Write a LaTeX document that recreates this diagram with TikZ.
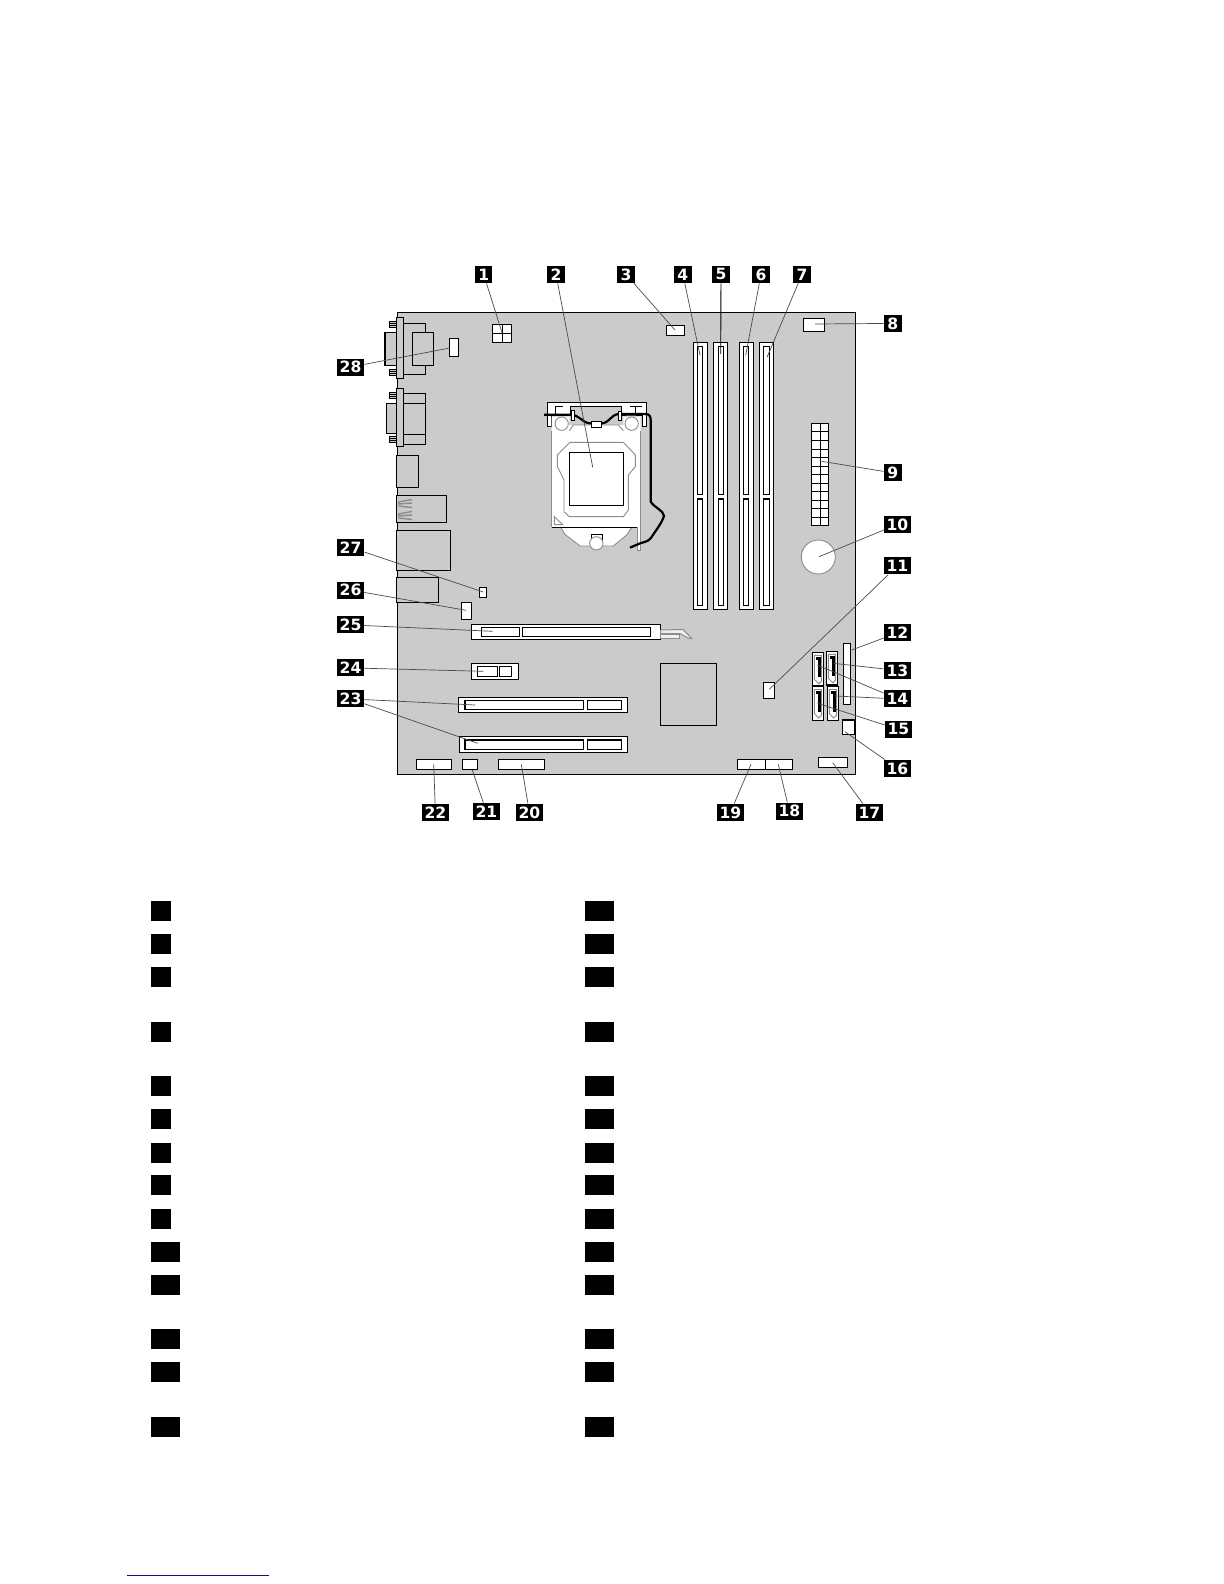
\documentclass[tikz,border=0pt]{standalone}
\usepackage{fontspec}
\setmainfont{DejaVu Sans}
\definecolor{board}{HTML}{CBCBCB}
\definecolor{leader}{HTML}{4A4A4A}
\definecolor{soft}{HTML}{8C8C8C}
\definecolor{rule}{HTML}{10108A}
\tikzset{
  part/.style={draw=black,line width=0.6pt,fill=white},
  shell/.style={draw=black,line width=0.6pt,fill=board},
  softline/.style={draw=soft,line width=0.45pt},
  lead/.style={draw=leader,line width=0.35pt},
  tag/.style={fill=black,text=white,inner sep=0pt,minimum height=8.5pt,font=\bfseries\fontsize{7.8}{8}\selectfont},
  legendmark/.style={fill=black,inner sep=0pt}
}
\newcommand{\rbox}[5]{\path[#1] (#2,#3) rectangle (#4,#5);}
\newcommand{\lab}[4]{\node[tag,minimum width=#3*0.5pt] (l#4) at (#1,#2) {#4};}
\newcommand{\blk}[4]{\node[legendmark,minimum width=#3*0.5pt,minimum height=10pt] (#4) at (#1,#2) {};}
\newcommand{\leadto}[4]{\coordinate (#1) at (#2,#3); \draw[lead] (#4) -- (#1);}
\newcommand{\screwset}[2]{%
  \rbox{shell,line width=0.35pt}{#1}{#2}{396.3}{#2+6.5}
  \draw[line width=0.3pt] (#1,#2+2.2) -- (396.3,#2+2.2) (#1,#2+4.4) -- (396.3,#2+4.4);}
\newcommand{\satabox}[2]{%
  \begin{scope}[shift={(#1,#2)}]
  \rbox{part}{0}{0}{11.4}{33.6}
  \draw[softline,fill=white] (2,3) -- (9,3) -- (9,29) -- (6.5,31.5) -- (2,27) -- cycle;
  \draw[line width=1.3pt] (3.2,6) -- (7,6) -- (7,25);
  \end{scope}}
\begin{document}
\begin{tikzpicture}[x=0.5pt,y=-0.5pt]
\path[fill=white,use as bounding box] (0,0) rectangle (1224,1584);
% board
\rbox{shell,line width=0.65pt}{397.3}{312.3}{855.7}{774.3}
% rear I/O
\screwset{389.3}{321}\screwset{389.3}{369}
\rbox{shell}{403.7}{323.3}{425.7}{374.3}
\rbox{shell}{412.3}{332.3}{433.3}{365.3}
\rbox{shell}{385}{332.3}{396.3}{365.3}
\rbox{shell}{396.3}{317.3}{403.7}{378.3}
\screwset{389.3}{392}\screwset{389.3}{436}
\rbox{shell}{403.7}{393.3}{425.7}{444.3}
\draw[line width=0.6pt] (403.7,403.3) -- (425.7,403.3) (403.7,434.3) -- (425.7,434.3);
\rbox{shell}{386.3}{403.3}{396.3}{433.3}
\rbox{shell}{396.3}{388.3}{403.7}{446.3}
\rbox{shell}{396.3}{455.3}{418.7}{487.3}
\rbox{shell}{396.3}{495.3}{446.7}{522.3}
\draw[draw=soft,line width=0.7pt] (412,499.5) -- (398.5,502) -- (398.5,504) -- (412,503) (398.5,506) -- (412,507.5)
  (412,511.5) -- (398.5,514) -- (398.5,516) -- (412,515) (398.5,518) -- (412,519.5);
\rbox{shell}{396.3}{530.3}{450.7}{570.3}
\rbox{shell}{396.3}{577.3}{438.7}{602.7}
% small headers
\rbox{part}{492.3}{324.3}{511.7}{342.3}
\draw[line width=0.4pt] (502,324.3) -- (502,342.3) (492.3,333.3) -- (511.7,333.3);
\rbox{part}{666.3}{325.3}{684.7}{335.3}
\rbox{part}{803.3}{318.3}{824.7}{331.3}
\rbox{part}{449.3}{338.3}{458.7}{356.3}
\rbox{part}{479.3}{587.3}{486.7}{597.3}
\rbox{part}{461.3}{602.3}{471.7}{619.3}
% CPU socket
\begin{scope}[shift={(530,400)},x=0.16667pt,y=-0.16667pt]
  \path[fill=white,draw=black,line width=0.5pt] (52,78) -- (52,8) -- (350,8) -- (350,78) -- (338,78) -- (338,45) -- (300,45) -- (275,45) -- (275,18) -- (120,18) -- (120,45) -- (64,45) -- (64,78) -- cycle;
  \path[fill=white] (65,50) -- (118,50) -- (118,75) -- (280,75) -- (280,50) -- (332,50) -- (332,382) -- (65,382) -- cycle;
  \path[fill=board] (120,50) -- (275,50) -- (275,74) -- (120,74) -- cycle;
  \draw[softline] (65,92) -- (65,382) (332,92) -- (332,382);
  \draw[softline] (118,92) -- (130,75) -- (265,75) -- (280,92);
  \draw[softline,fill=white] (92,382) -- (105,403) -- (150,438) -- (250,438) -- (290,405) -- (305,382);
  \draw[line width=0.6pt] (65,382) -- (332,382);
  \draw[softline,fill=white] (322,382) -- (322,450) -- (332,450) -- (332,382);
  \draw[softline,fill=white] (95,71) circle (20) (305,71) circle (20);
  \draw[line width=0.45pt] (75,20) -- (98,20) (75,20) -- (75,45) (300,20) -- (335,20) (315,20) -- (315,45);
  \draw[softline] (120,127) -- (280,127) -- (316,165) -- (316,200) -- (295,225) -- (295,330) -- (280,350) -- (118,350) -- (102,335) -- (102,240) -- (82,200) -- (82,165) -- cycle;
  \draw[softline] (73,350) -- (98,374) -- (73,374) -- cycle;
  \rbox{part,line width=0.45pt}{183}{403}{218}{430}
  \draw[softline,fill=white] (199,430) circle (20);
  \draw[line width=1.1pt,line join=round] (42,44) -- (120,44) .. controls (150,44) and (155,68) .. (180,70) -- (215,70) .. controls (240,68) and (240,46) .. (265,42) -- (345,42) .. controls (358,42) and (362,48) .. (362,60) -- (362,305) .. controls (375,325) and (400,330) .. (402,348) .. controls (395,370) and (375,395) .. (362,415) .. controls (350,428) and (340,425) .. (330,430) -- (300,443);
  \rbox{part,line width=0.35pt}{123}{30}{132}{60}
  \rbox{part,line width=0.35pt}{265}{33}{274}{62}
  \rbox{part,line width=0.35pt}{184}{64}{214}{82}
\end{scope}
\rbox{part,line width=0.65pt}{569.3}{452.3}{623.7}{505.3}
% memory slots
\foreach \xa/\xb/\ia/\ib in {693.3/707.7/697.3/702.7,713.3/727.7/718.3/723.7,739.3/753.7/743.3/748.7,759.3/773.7/763.3/769.7}{
  \rbox{part}{\xa}{342.3}{\xb}{609.3}
  \rbox{part}{\ia}{346.3}{\ib}{494.7}
  \rbox{part}{\ia}{499}{\ib}{605.3}
}
% power connector
\rbox{part}{811.3}{423.3}{828.7}{525.7}
\draw[line width=0.4pt] (820.3,423.3) -- (820.3,525.7);
\foreach \k in {1,...,11}{\draw[line width=0.4pt] (811.3,423.3+\k*8.533) -- (828.7,423.3+\k*8.533);}
% battery
\draw[softline,fill=white] (818.3,557) circle (17);
% PCIe x16
\rbox{part}{471.3}{624.3}{660.7}{639.3}
\rbox{part}{481.3}{627.3}{519.3}{636.7}
\rbox{part}{522.3}{627.3}{650.7}{636.7}
\draw[draw=soft,line width=0.5pt,fill=white!70!board] (660.7,630) -- (683,629.5) -- (691.7,638.5) -- (688,638) -- (680,633.5) -- (660.7,633.5) -- cycle;
\draw[draw=soft,line width=0.5pt,fill=white!70!board] (660.7,634) -- (679.5,634) -- (679.5,638.5) -- (660.7,638.5) -- cycle;
% PCIe x1
\rbox{part}{471.3}{663.3}{518.7}{679.3}
\rbox{part}{477.3}{666.3}{497.7}{676.7}
\rbox{part}{499.3}{666.3}{511.7}{676.7}
% PCI
\rbox{part}{458.3}{697.3}{627.7}{712.3}
\rbox{part}{465}{700.3}{583.7}{709.7}
\rbox{part}{587.3}{700.3}{621.7}{709.7}
\rbox{part}{459.3}{736.3}{627.7}{752.3}
\rbox{part}{465}{740}{583.7}{749.7}
\rbox{part}{587.3}{740}{621.7}{749.7}
% chipset and others
\rbox{shell}{660.3}{663.3}{716.7}{725.3}
\rbox{part}{763.3}{682.3}{774.7}{698.7}
\rbox{part}{843.3}{643.3}{850.7}{704.3}
\rbox{part}{842.3}{720}{855}{734.3}
\satabox{812.3}{652.3}\satabox{826.3}{651.3}\satabox{812.3}{686.5}\satabox{827.3}{686.5}
% bottom headers
\rbox{part}{416.3}{759.3}{451.7}{769.3}
\rbox{part}{462.3}{759.3}{477.7}{769.3}
\rbox{part}{498.3}{759.3}{544.7}{769.3}
\rbox{part}{737.3}{759.3}{765.7}{769.3}
\rbox{part}{765.7}{759.3}{792.7}{769.3}
\rbox{part}{818.3}{757.3}{847.7}{767.7}
% callout tags
\lab{483.7}{274.4}{17}{1}\lab{556}{274.4}{17.4}{2}\lab{626}{274.4}{17.4}{3}
\lab{682.9}{274.4}{17.7}{4}\lab{721}{274.4}{18}{5}\lab{761}{274.4}{18}{6}
\lab{802}{274.4}{18}{7}\lab{892.9}{323.4}{17.7}{8}\lab{892.9}{472.9}{17.7}{9}
\lab{897.4}{524.4}{26.7}{10}\lab{897.4}{565.9}{26.7}{11}\lab{897.4}{632.9}{26.7}{12}
\lab{897.4}{670.4}{26.7}{13}\lab{897.4}{698.9}{26.7}{14}\lab{898.4}{729.4}{26.7}{15}
\lab{897.4}{768.4}{26.7}{16}\lab{869.4}{812.4}{26.7}{17}\lab{789.4}{811.2}{26.7}{18}
\lab{730.4}{812.4}{26.7}{19}\lab{529.4}{812.4}{26.7}{20}\lab{486.4}{811.9}{26.7}{21}
\lab{435.4}{812.4}{26.7}{22}\lab{350.5}{698.9}{27}{23}\lab{350.5}{667.9}{27}{24}
\lab{350.5}{624.9}{27}{25}\lab{350.5}{590}{27}{26}\lab{350.5}{547.4}{27}{27}
\lab{350.5}{367}{27}{28}
% leaders
\leadto{t1}{502}{332.7}{l1}
\leadto{t2}{592.7}{467.3}{l2}
\leadto{t3}{675}{330}{l3}
\leadto{t4}{700}{355.3}{l4}
\coordinate (t5) at (720.7,354); \draw[lead,draw=black,line width=0.45pt] (l5) -- (t5);
\leadto{t6}{745.7}{355.3}{l6}
\leadto{t7}{767}{357.3}{l7}
\leadto{t8}{815}{324}{l8}
\leadto{t9}{821.7}{461.3}{l9}
\leadto{t10}{819}{556.7}{l10}
\leadto{t11}{769.3}{689.3}{l11}
\leadto{t12}{851.7}{650}{l12}
\leadto{t13}{833.3}{663.3}{l13}
\leadto{t14a}{817.3}{665}{l14}
\leadto{t14b}{835}{696}{l14}
\leadto{t15}{817.5}{703.3}{l15}
\leadto{t16}{845}{731.7}{l16}
\leadto{t17}{832.7}{762.7}{l17}
\leadto{t18}{778.3}{764.3}{l18}
\leadto{t19}{751}{764.3}{l19}
\leadto{t20}{521.3}{764.3}{l20}
\leadto{t21}{472.3}{770}{l21}
\leadto{t22}{433.7}{764.3}{l22}
\leadto{t23a}{475.3}{705}{l23}
\leadto{t23b}{477.7}{743.3}{l23}
\leadto{t24}{483.3}{671.3}{l24}
\leadto{t25}{492.7}{631.3}{l25}
\leadto{t26}{466}{610.3}{l26}
\leadto{t27}{483.3}{592}{l27}
\leadto{t28}{450}{348}{l28}
% legend markers
\blk{161}{911}{20}{ka}\blk{161}{943.5}{20}{kb}\blk{161}{977}{20}{kc}\blk{161}{1031.5}{20}{kd}
\blk{161}{1086}{20}{ke}\blk{161}{1119}{20}{kf}\blk{161}{1152.5}{20}{kg}\blk{161}{1185}{20}{kh}
\blk{161}{1218.5}{20}{ki}\blk{165.5}{1251.5}{29}{kj}\blk{165.5}{1284.5}{29}{kk}\blk{165.5}{1339}{29}{kl}
\blk{165.5}{1372}{29}{km}\blk{165.5}{1426.5}{29}{kn}
\blk{599.5}{911}{29}{ma}\blk{599.5}{943.5}{29}{mb}\blk{599.5}{977}{29}{mc}\blk{599.5}{1031.5}{29}{md}
\blk{599.5}{1086}{29}{me}\blk{599.5}{1119}{29}{mf}\blk{599.5}{1152.5}{29}{mg}\blk{599.5}{1185}{29}{mh}
\blk{599.5}{1218.5}{29}{mi}\blk{599.5}{1251.5}{29}{mj}\blk{599.5}{1284.5}{29}{mk}\blk{599.5}{1339}{29}{ml}
\blk{599.5}{1372}{29}{mm}\blk{599.5}{1426.5}{29}{mn}
% footnote rule
\draw[rule,line width=0.6pt] (127,1575.3) -- (269,1575.3);
\end{tikzpicture}
\end{document}
